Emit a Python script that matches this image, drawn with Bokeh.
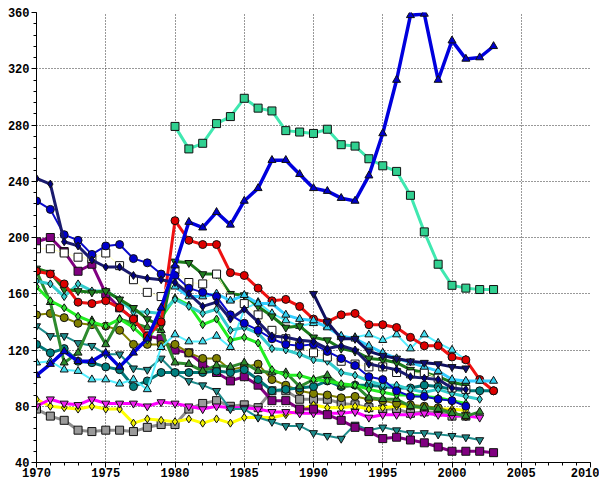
from bokeh.plotting import figure
from bokeh.models import Range1d, SingleIntervalTicker
from bokeh.embed import file_html
from bokeh.resources import INLINE

# ---- data: one array of yearly values per series, with its first year ----
gray_sq_start = 1970
gray_sq = [78, 73, 70, 63, 62, 63, 63, 62, 65, 67, 67, 78, 82, 84, 80, 81, 79, 91, 91, 85,
           85, 85, 82, 81, 79, 78, 78, 75, 76, 76, 73, 73]

yellow_dia_start = 1970
yellow_dia = [85, 80, 79, 78, 80, 78, 78, 68, 71, 70, 69, 71, 68, 71, 68, 72, 72, 72, 74, 77,
              81, 79, 79, 80, 78, 79, 80, 80, 79, 78, 78, 77]

magenta_dtri_start = 1970
magenta_dtri = [80, 85, 82, 81, 85, 82, 82, 82, 80, 83, 82, 80, 78, 80, 79, 79, 78, 76, 76, 75,
                75, 75, 75, 76, 72, 74, 74, 74, 75, 74, 73, 73, 72]

teal_dtri_start = 1970
teal_dtri = [137, 130, 130, 125, 123, 117, 117, 107, 106, 114, 104, 98, 95, 91, 78, 78, 72, 69,
             66, 66, 61, 59, 57, 67, 63, 65, 63, 61, 61, 60, 59, 58, 56]

purple_sq_start = 1970
purple_sq = [197, 200, 190, 176, 181, 160, 150, 142, 130, 128, 120, 118, 110, 104, 98, 101, 95,
             84, 84, 78, 78, 74, 70, 65, 62, 57, 58, 56, 54, 51, 48, 48, 48, 47]

olive_ci_start = 1970
olive_ci = [145, 146, 143, 139, 138, 137, 134, 124, 124, 124, 124, 118, 114, 114, 106, 108, 110,
            99, 95, 91, 89, 88, 86, 87, 85, 84, 82, 81, 80, 79, 76, 73]

teal_ci_start = 1970
teal_ci = [124, 118, 121, 112, 111, 108, 106, 94, 98, 104, 104, 104, 104, 105, 104, 106, 99, 91,
           92, 93, 94, 98, 94, 95, 95, 94, 93, 93, 95, 94, 92, 91, 91, 91]

forest_utri_start = 1970
forest_utri = [176, 154, 111, 118, 141, 124, 142, 139, 136, 134, 111, 110, 105, 109, 108, 111,
               105, 104, 104, 94, 99, 102, 94, 95, 86, 85, 85, 80, 79, 78, 75, 73, 76]

aqua_utri_start = 1970
aqua_utri = [111, 112, 106, 105, 99, 99, 96, 99, 92, 122, 131, 126, 126, 130, 122, 149, 154, 146,
             141, 137, 139, 137, 129, 129, 131, 127, 131, 121, 131, 125, 120, 113]

lime_dia_start = 1970
lime_dia = [165, 155, 150, 144, 140, 137, 142, 136, 127, 143, 157, 152, 138, 142, 127, 129, 125,
            106, 102, 102, 99, 98, 96, 95, 92, 90, 88, 88, 87, 86, 84, 82]

cyan_dia_start = 1970
cyan_dia = [169, 167, 158, 167, 162, 162, 156, 147, 147, 146, 156, 151, 146, 149, 134, 136, 132,
            121, 120, 117, 113, 112, 104, 102, 98, 95, 95, 92, 90, 92, 89, 87, 85]

dkgreen_dtri_start = 1970
dkgreen_dtri = [178, 175, 163, 162, 161, 162, 156, 150, 142, 137, 183, 182, 174, 174, 160, 159,
                151, 144, 136, 137, 129, 127, 121, 119, 114, 113, 111, 106, 104, 101, 97, 95]

red_ci_start = 1970
red_ci = [176, 174, 167, 154, 153, 155, 150, 142, 130, 140, 212, 198, 195, 195, 175, 173, 164,
          155, 156, 151, 142, 140, 145, 146, 138, 138, 136, 129, 123, 123, 115, 113, 99, 91]

open_sq_start = 1970
open_sq = [192, 192, 189, 186, 185, 189, 180, 170, 161, 158, 177, 168, 167, 174, 157, 153, 145,
           134, 128, 123, 118, 115, 112, 110, 108, 108, 104, 103, 104, 100, 93, 92]

sky_utri_start = 1980
sky_utri = [165, 158, 158, 160, 155, 159, 153, 153, 145, 142, 141, 136, 130, 128, 123, 118, 114,
            111, 108, 105, 99, 98, 98, 98]

med_blue_dia_start = 1970
med_blue_dia = [226, 220, 202, 198, 188, 194, 195, 185, 182, 174, 173, 164, 161, 158, 145, 139,
                134, 128, 124, 123, 124, 119, 114, 109, 101, 99, 91, 87, 87, 85, 84, 80]

navy_dia_start = 1970
navy_dia = [242, 238, 197, 194, 184, 179, 179, 173, 171, 170, 168, 160, 151, 154, 142, 149, 140,
            130, 129, 127, 126, 121, 123, 120, 110, 108, 106, 101, 100, 99, 93, 92]

navy_dtri_start = 1990
navy_dtri = [160, 140, 128, 128, 119, 116, 114, 112, 111, 110, 108, 107]

aqua_sq_start = 1980
aqua_sq = [279, 263, 267, 281, 286, 299, 292, 290, 276, 275, 274, 277, 266, 265, 256, 251, 247,
           230, 204, 181, 166, 164, 163, 163]

blue_utri_start = 1970
blue_utri = [102, 110, 119, 112, 112, 118, 108, 118, 128, 150, 180, 211, 207, 218, 209, 226, 235,
             255, 255, 245, 235, 233, 228, 226, 244, 274, 312, 358, 359, 312, 340, 327, 328, 336]

x_ticks_step = 5
y_ticks_step = 40

# (values, first year, line colour, line width, marker, marker fill)
series = [
    (gray_sq, gray_sq_start, "#8C8C8C", 3, "square", "#9A9A9A"),
    (yellow_dia, yellow_dia_start, "#FFFF00", 3, "diamond", "#F0F000"),
    (magenta_dtri, magenta_dtri_start, "#FF00FF", 3, "inverted_triangle", "#EE22EE"),
    (teal_dtri, teal_dtri_start, "#1E8C8C", 2, "inverted_triangle", "#1E8C8C"),
    (purple_sq, purple_sq_start, "#800080", 3, "square", "#800080"),
    (olive_ci, olive_ci_start, "#808000", 2, "circle", "#808000"),
    (teal_ci, teal_ci_start, "#007878", 3, "circle", "#008080"),
    (forest_utri, forest_utri_start, "#2E8B2E", 3, "triangle", "#2E8B2E"),
    (aqua_utri, aqua_utri_start, "#55EEFF", 2, "triangle", "#44DDEE"),
    (lime_dia, lime_dia_start, "#22EE22", 3, "diamond", "#33DD33"),
    (cyan_dia, cyan_dia_start, "#33CCCC", 3, "diamond", "#33CCCC"),
    (dkgreen_dtri, dkgreen_dtri_start, "#1A7A1A", 3, "inverted_triangle", "#1F7F1F"),
    (red_ci, red_ci_start, "#EE1111", 3, "circle", "#DD0000"),
    (open_sq, open_sq_start, "#FFFFC0", 1, "square", "#FFFFFF"),
    (sky_utri, sky_utri_start, "#33CCFF", 3, "triangle", "#33CCEE"),
    (med_blue_dia, med_blue_dia_start, "#0A0ACC", 2, "circle", "#0000CC"),
    (navy_dia, navy_dia_start, "#1A1A6E", 3, "diamond", "#000080"),
    (navy_dtri, navy_dtri_start, "#101060", 3, "inverted_triangle", "#101070"),
    (aqua_sq, aqua_sq_start, "#40E8B0", 3, "square", "#30D090"),
    (blue_utri, blue_utri_start, "#0000DD", 3.5, "triangle", "#0000CC"),
]

p = figure(width=599, height=479,
           x_range=Range1d(1970, 2010), y_range=Range1d(40, 360),
           output_backend="svg", toolbar_location=None,
           min_border_left=36, min_border_right=9,
           min_border_top=12, min_border_bottom=16)
p.outline_line_color = None
p.background_fill_color = "white"
p.border_fill_color = "white"

p.xaxis.ticker = SingleIntervalTicker(interval=x_ticks_step, num_minor_ticks=5)
p.yaxis.ticker = SingleIntervalTicker(interval=y_ticks_step, num_minor_ticks=5)

for ax in (p.xaxis[0], p.yaxis[0]):
    ax.axis_line_color = "black"
    ax.major_tick_line_color = "black"
    ax.minor_tick_line_color = "black"
    ax.major_tick_out = 5
    ax.major_tick_in = 0
    ax.minor_tick_out = 3
    ax.minor_tick_in = 0
    ax.major_label_text_font = "Liberation Mono"
    ax.major_label_text_font_style = "bold"
    ax.major_label_text_font_size = "12px"
    ax.major_label_text_color = "black"
    ax.major_label_standoff = 2
p.xaxis[0].major_label_standoff = 0

for g in (p.xgrid[0], p.ygrid[0]):
    g.grid_line_color = "#333333"
    g.grid_line_dash = "1 2"
    g.grid_line_width = 1

for vals, start, lc, lw, mk, fc in series:
    yrs = list(range(start, start + len(vals)))
    p.line(yrs, vals, line_color=lc, line_width=lw)
    p.scatter(yrs, vals, marker=mk, size=8, fill_color=fc,
              line_color="#101010", line_width=1)

open("out.html", "w").write(file_html(p, INLINE))
